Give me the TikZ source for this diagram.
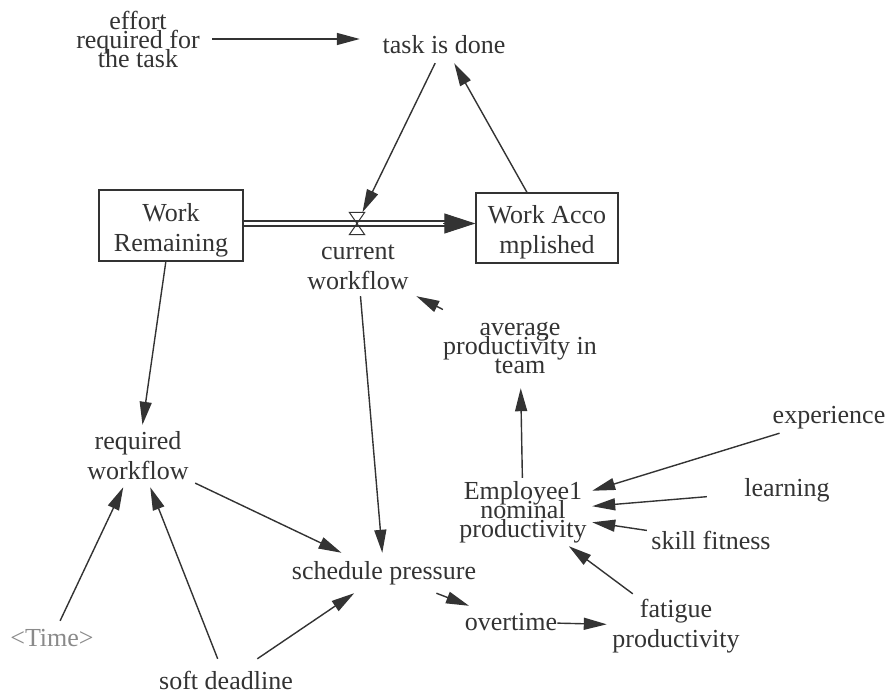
\documentclass[tikz,border=0pt]{standalone}
\usepackage{fontspec}
\setmainfont{Liberation Serif}
\usetikzlibrary{arrows.meta}
\definecolor{ink}{HTML}{333333}
\definecolor{shadowgray}{HTML}{8A8A8A}
\newcommand\varfont{\fontsize{26}{30}\selectfont}
\newcommand\tightfont{\fontsize{26}{19}\selectfont\lineskiplimit=-40pt\relax}
\newcommand\topline{\rule{0pt}{27pt}}
\begin{document}
\begin{tikzpicture}[x=1pt,y=-1pt,
  var/.style={align=center,font=\varfont,text=ink,inner sep=0pt},
  tightvar/.style={var,font=\tightfont},
  stock/.style={var,draw=ink,line width=1.3pt,minimum width=144pt,minimum height=71pt},
  valve/.style={minimum width=15pt,minimum height=22pt,inner sep=0pt},
  link/.style={draw=ink,line width=1.4pt,-{Triangle[length=23pt,width=12pt]}},
  pipe/.style={draw=ink,line width=1.3pt,double,double distance=3.5pt}]
\useasboundingbox (0,0) rectangle (892,695);
% stocks and flow
\node[stock] (WR) at (171,225.5) {\topline Work\\Remaining};
\node[stock,minimum width=142pt,minimum height=70pt] (WA) at (547,228) {\topline Work Acco\\mplished};
\node[valve] (valve) at (357,223.5) {};
\draw[pipe] (WR.east |- valve) -- ([xshift=-29pt]WA.west |- valve);
\draw[ink,line width=1pt,-{Triangle[length=31pt,width=20pt]}] ([xshift=-32pt]WA.west |- valve) -- (WA.west |- valve);
\draw[ink,line width=1pt] (valve.north west) -- (valve.north east) -- (valve.south west) -- (valve.south east) -- cycle;
\node[var,minimum width=118pt,minimum height=58pt] (cw) at (358,267) {current\\workflow};
% auxiliaries
\node[tightvar,minimum width=148pt] (effort) at (138,39) {effort\\required for\\the task};
\node[var,minimum width=168pt,minimum height=36pt] (task) at (444,45) {task is done};
\node[var,minimum width=114pt,minimum height=62pt] (rw) at (138,456) {required\\workflow};
\node[var,minimum width=86pt,minimum height=34pt,text=shadowgray] (time) at (52,638) {<Time>};
\node[var,minimum height=42pt] (sd) at (226,680) {soft deadline};
\node[var,minimum width=190pt,minimum height=40pt] (sched) at (384,573) {schedule pressure};
\node[var,minimum width=88pt,minimum height=32pt] (ot) at (511,622) {overtime};
\node[var,minimum width=138pt,minimum height=64pt] (fatigue) at (676,626) {fatigue\\productivity};
\node[tightvar,minimum height=80pt] (avg) at (520,348) {average\\productivity in\\team};
\node[tightvar,minimum width=138pt,minimum height=68pt] (E1) at (523,512) {Employee1\\nominal\\productivity};
\node[var,minimum height=30pt] (exp) at (829,418) {experience};
\node[var,minimum width=160pt] (learn) at (787,490) {learning};
\node[var,minimum width=128pt,minimum height=20pt] (skill) at (711,540) {skill fitness};
% links
\draw[link] (effort.east) -- (effort.east -| task.west);
\draw[link] (task) -- (valve);
\draw[link] (WA) -- (task);
\draw[link] (WR) -- (rw);
\draw[link] (time) -- (rw);
\draw[link] (sd) -- (rw);
\draw[link] (sd) -- (sched);
\draw[link] (rw) -- (sched);
\draw[link] (cw) -- (sched);
\draw[link] (avg) -- (cw);
\draw[link] (E1) -- (avg);
\draw[link] (exp) -- (E1);
\draw[link] (learn) -- (E1);
\draw[link] (skill) -- (E1);
\draw[link] (fatigue) -- (E1);
\draw[link] (sched) -- (ot);
\draw[link] (ot) -- (fatigue);
\end{tikzpicture}
\end{document}
